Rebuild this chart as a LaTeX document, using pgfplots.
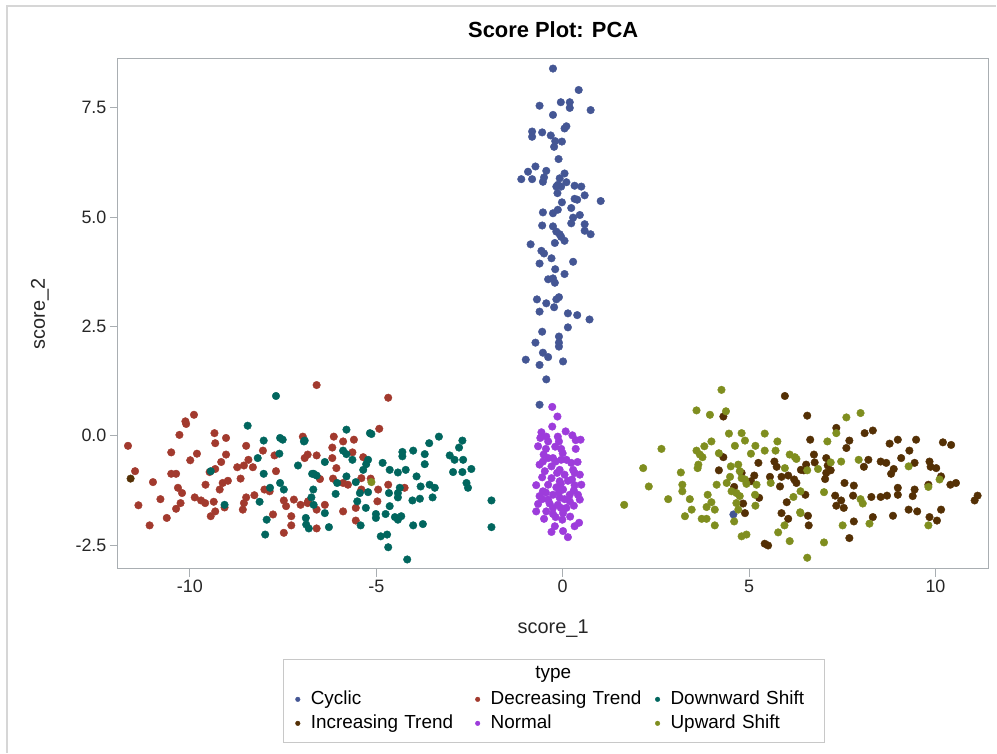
\documentclass[border=0pt]{standalone}
\usepackage{fontspec}
\setmainfont{Liberation Sans}
\usepackage{pgfplots}
\pgfplotsset{compat=1.18}
\definecolor{cyc}{HTML}{445694}
\definecolor{dec}{HTML}{A23A2E}
\definecolor{dow}{HTML}{01665E}
\definecolor{inc}{HTML}{543005}
\definecolor{nor}{HTML}{9D3CDB}
\definecolor{upw}{HTML}{7F8E1F}
\definecolor{axgray}{HTML}{A9AEB2}
\definecolor{framegray}{HTML}{D6D6D6}
\definecolor{legbox}{HTML}{C8C8C8}
\begin{document}
\begin{tikzpicture}
\path (0,0) rectangle (997bp,753bp);
\draw[framegray, line width=1.2bp] (7bp,0) -- (7bp,747bp) -- (997bp,747bp);
\draw[legbox, line width=1bp] (284bp,10bp) rectangle (825bp,93bp);
\node[anchor=base, font=\fontsize{19}{22}\selectfont] at (553.5bp,74bp) {type};
\begin{axis}[
  at={(118bp,184bp)}, anchor=south west, scale only axis,
  width=871bp, height=510bp,
  xmin=-11.93, xmax=11.42, ymin=-3.04, ymax=8.62,
  axis line style={draw=axgray, line width=1bp},
  tick align=outside, tick pos=left, major tick length=8bp,
  tick style={draw=axgray, line width=1bp},
  xtick={-10,-5,0,5,10}, xticklabels={-10,-5,0,5,10},
  ytick={-2.5,0,2.5,5,7.5}, yticklabels={-2.5,0.0,2.5,5.0,7.5},
  ticklabel style={font=\fontsize{18}{20}\selectfont, text=black!85},
  xlabel={score\_1}, ylabel={score\_2},
  label style={font=\fontsize{20}{24}\selectfont, text=black!85},
  xlabel style={at={(axis description cs:0.5,0)}, anchor=base, yshift=-65bp},
  ylabel style={at={(axis description cs:-0.0838,0.5)}, anchor=base},
  title={Score Plot: PCA},
  title style={font=\bfseries\fontsize{22}{26}\selectfont, at={(axis description cs:0.5,1)}, anchor=base, yshift=15bp},
  legend columns=3,
  legend style={at={(axis description cs:0.2040,-0.2329)}, anchor=north west, draw=none, fill=none,
    inner sep=0pt, outer sep=0pt, column sep=0pt, row sep=0pt,
    font=\fontsize{19}{22}\selectfont, cells={anchor=west},
    nodes={text width=154bp, inner xsep=10.7bp, inner ysep=3bp, text height=14bp, text depth=4bp}},
  legend image code/.code={\draw[#1, mark size=2.3bp] plot coordinates {(0bp,0bp)};},
  every axis plot/.append style={only marks, mark=*, mark size=3.8bp},
]
\addplot[color=cyc, mark options={draw=cyc, fill=cyc}] table {
x y
-0.26 8.40
0.43 7.91
-0.62 7.55
-0.05 7.63
0.19 7.63
0.19 7.50
0.75 7.45
-0.26 7.34
0.10 7.08
0.05 7.03
-0.82 6.96
-0.82 6.84
-0.55 6.94
-0.32 6.87
-0.20 6.74
-0.02 6.73
-0.23 6.61
-0.11 6.33
-0.73 6.16
-0.93 6.04
-1.11 5.87
-0.82 5.87
-0.44 6.06
-0.50 5.91
-0.53 5.81
0.05 6.00
-0.08 5.89
0.10 5.80
-0.13 5.74
-0.04 5.70
-0.17 5.70
0.32 5.72
0.50 5.70
-0.14 5.55
0.59 5.50
1.02 5.37
0.32 5.42
0.39 5.40
-0.02 5.34
0.23 5.21
-0.13 5.17
-0.26 5.09
-0.53 5.11
0.46 5.05
0.28 4.99
0.23 4.86
0.59 4.84
-0.55 4.81
-0.26 4.79
-0.17 4.67
-0.08 4.61
0.59 4.69
0.75 4.61
-0.04 4.55
0.05 4.46
-0.21 4.41
-0.86 4.38
-0.57 4.23
-0.50 4.17
-0.30 4.06
-0.62 3.94
0.28 3.98
-0.20 3.81
0.05 3.70
-0.39 3.58
-0.26 3.60
-0.21 3.50
-0.69 3.12
-0.44 3.03
-0.17 3.12
-0.10 3.17
-0.23 2.94
-0.62 2.84
0.14 2.80
0.39 2.76
0.72 2.66
0.14 2.48
-0.55 2.38
-0.10 2.27
-0.10 2.13
-0.10 2.04
-0.73 2.13
-0.53 1.90
-0.39 1.80
-0.99 1.74
-0.62 1.62
0.01 1.70
-0.44 1.29
-0.62 0.71
4.58 -1.80
};
\addlegendentry{Cyclic}
\addplot[color=dec, mark options={draw=dec, fill=dec}] table {
x y
-11.66 -0.23
-11.47 -0.81
-11.38 -1.59
-11.08 -2.05
-10.99 -1.06
-10.79 -1.45
-10.62 -1.88
-10.50 -0.38
-10.28 0.02
-10.12 0.33
-10.10 0.27
-9.89 0.48
-9.99 -0.56
-9.81 -0.41
-10.50 -0.87
-10.37 -0.87
-10.32 -1.19
-10.21 -1.31
-10.25 -1.54
-10.37 -1.67
-9.87 -1.41
-9.70 -1.48
-9.59 -1.54
-9.36 -1.51
-9.32 -1.73
-9.44 -1.84
-9.58 -1.12
-9.34 0.06
-9.32 -0.17
-9.03 -0.05
-9.03 -0.43
-9.16 -0.60
-9.32 -0.76
-9.47 -0.83
-8.98 -1.03
-9.12 -1.08
-9.20 -1.23
-9.07 -1.64
-8.73 -0.72
-8.55 -0.68
-8.43 -0.55
-8.31 -0.72
-8.49 -0.23
-8.64 -0.98
-8.49 -1.41
-8.55 -1.54
-8.58 -1.69
-8.27 -1.36
-8.04 -0.34
-7.73 -0.45
-7.69 -0.81
-8.00 -1.23
-7.86 -1.27
-7.77 -1.80
-7.48 -1.48
-7.42 -1.61
-7.28 -1.84
-7.28 -2.05
-7.48 -2.22
-7.21 -1.46
-7.03 -1.58
-6.97 -0.02
-6.92 -0.51
-6.84 -0.43
-6.84 -1.54
-6.60 1.16
-4.68 0.87
-4.92 0.16
-6.14 -0.02
-5.89 -0.13
-5.60 -0.09
-6.18 -0.27
-5.64 -0.38
-5.35 -0.49
-6.60 -0.45
-6.18 -0.51
-6.07 -0.74
-6.51 -0.99
-6.16 -0.98
-5.89 -1.08
-5.76 -1.12
-5.40 -0.97
-5.15 -0.98
-4.95 -1.23
-4.68 -1.12
-4.24 -1.19
-5.40 -1.23
-4.97 -1.50
-6.38 -1.58
-6.83 -1.50
-6.60 -1.69
-5.89 -1.73
-5.55 -1.65
-5.55 -1.94
-6.60 -2.12
};
\addlegendentry{Decreasing Trend}
\addplot[color=dow, mark options={draw=dow, fill=dow}] table {
x y
-7.69 0.91
-8.45 0.23
-8.02 -0.11
-7.58 -0.05
-7.51 -0.09
-6.92 -0.11
-7.60 -0.41
-8.18 -0.51
-7.10 -0.68
-8.02 -0.87
-9.44 -0.81
-7.58 -1.08
-7.48 -1.23
-7.85 -1.19
-8.13 -1.51
-9.07 -1.58
-7.94 -1.92
-7.98 -2.26
-6.88 -2.03
-6.81 -2.12
-6.72 -0.87
-5.80 0.14
-5.17 0.06
-5.13 0.04
-6.94 -0.13
-5.89 -0.34
-5.80 -0.42
-5.64 -0.55
-6.38 -0.60
-5.22 -0.55
-5.27 -0.65
-5.35 -0.78
-4.83 -0.62
-4.64 -0.78
-4.42 -0.84
-4.21 -0.78
-4.30 -0.37
-4.30 -0.47
-4.01 -0.34
-3.70 -0.42
-3.70 -0.65
-3.58 -0.17
-3.32 -0.02
-3.03 -0.45
-2.90 -0.55
-2.67 -0.55
-2.78 -0.27
-2.69 -0.11
-2.94 -0.83
-2.69 -0.83
-2.45 -0.76
-2.58 -1.08
-2.54 -1.19
-1.91 -1.48
-1.91 -2.09
-3.92 -0.93
-3.81 -1.16
-3.57 -1.12
-3.43 -1.19
-3.49 -1.41
-3.83 -1.44
-4.03 -1.48
-4.37 -1.19
-4.42 -1.31
-4.42 -1.41
-4.66 -1.31
-4.64 -1.61
-4.75 -1.79
-5.01 -1.79
-5.01 -1.88
-4.50 -1.86
-4.42 -1.92
-4.33 -1.84
-5.28 -1.65
-5.51 -1.50
-5.44 -1.31
-5.22 -1.29
-5.55 -1.06
-5.80 -0.93
-6.05 -1.08
-6.09 -1.33
-6.68 -0.87
-6.60 -0.91
-6.69 -1.23
-6.74 -1.41
-6.68 -1.58
-6.38 -1.77
-6.89 -1.88
-6.27 -2.09
-5.42 -2.05
-4.01 -2.05
-3.75 -2.02
-4.88 -2.30
-4.71 -2.26
-4.68 -2.55
-4.17 -2.83
};
\addlegendentry{Downward Shift}
\addplot[color=inc, mark options={draw=inc, fill=inc}] table {
x y
-11.59 -0.98
5.96 0.91
4.31 0.44
4.31 -0.49
4.19 -0.79
4.80 -0.85
5.25 -0.62
5.14 -0.91
5.05 -1.04
4.60 -1.17
5.27 -1.42
5.68 -0.59
5.74 -0.71
5.56 -0.94
5.87 -0.94
6.05 -0.91
6.21 -1.00
6.27 -1.08
5.83 -1.16
6.01 -1.52
4.84 -1.55
4.89 -1.77
5.87 -1.77
6.05 -1.90
5.42 -2.47
5.51 -2.51
6.39 -0.78
6.56 0.46
7.34 0.18
8.10 0.06
8.32 0.12
6.64 -0.09
7.69 -0.11
7.61 -0.28
8.77 -0.18
8.99 -0.09
9.48 -0.09
10.20 -0.15
10.42 -0.21
9.30 -0.34
6.74 -0.43
7.07 -0.51
6.76 -0.61
6.53 -0.66
6.47 -0.79
7.11 -0.68
7.19 -0.79
7.07 -0.85
7.04 -0.99
8.20 -0.55
8.08 -0.71
8.53 -0.59
8.68 -0.62
9.08 -0.51
8.88 -0.76
8.81 -0.87
9.44 -0.62
9.84 -0.59
9.87 -0.71
10.02 -0.74
10.15 -0.93
10.40 -1.12
10.55 -1.08
11.13 -1.37
11.05 -1.48
7.56 -1.08
7.81 -1.14
8.99 -1.19
8.99 -1.35
9.44 -1.23
9.39 -1.38
9.81 -1.12
6.51 -1.35
7.31 -1.37
7.47 -1.48
7.34 -1.60
7.54 -1.65
7.79 -1.37
8.28 -1.40
8.53 -1.40
8.70 -1.37
6.58 -1.83
6.60 -2.05
7.81 -1.96
8.32 -1.86
8.86 -1.83
9.28 -1.69
9.51 -1.73
9.84 -1.86
10.04 -1.94
10.15 -1.69
7.69 -2.34
};
\addlegendentry{Increasing Trend}
\addplot[color=nor, mark options={draw=nor, fill=nor}] table {
x y
-0.28 0.66
-0.14 0.44
-0.28 0.21
-0.57 0.08
-0.44 -0.02
-0.39 -0.13
-0.13 -0.02
-0.10 -0.13
0.08 0.10
0.26 0.01
0.48 -0.09
-0.66 -0.24
-0.04 -0.30
-0.51 -0.43
-0.26 -0.51
-0.19 -0.59
-0.62 -0.66
0.23 -0.62
-0.48 -0.81
-0.08 -0.78
0.05 -0.89
0.32 -0.85
0.46 -0.89
-0.30 -0.97
0.14 -1.03
-0.71 -1.13
-0.39 -1.12
-0.17 -1.18
0.32 -1.13
0.50 -1.12
0.01 -1.23
0.19 -1.35
0.41 -1.35
-0.26 -1.35
-0.62 -1.38
-0.39 -1.46
0.46 -1.46
-0.66 -1.56
-0.13 -1.58
0.10 -1.65
-0.71 -1.73
-0.44 -1.73
-0.26 -1.79
-0.19 -1.86
-0.01 -1.92
0.44 -1.99
0.32 -2.07
-0.21 -2.07
0.01 -2.18
0.14 -2.32
-0.53 -0.59
-0.30 -0.70
0.10 -0.55
0.28 -0.78
-0.08 -1.04
-0.53 -1.27
0.19 -1.50
-0.08 -1.42
-0.26 -1.65
0.01 -1.77
-0.39 -0.51
-0.04 -0.55
-0.60 -0.05
0.00 -0.40
0.35 -0.30
-0.45 -0.30
0.40 -0.60
-0.15 -0.85
-0.55 -0.95
0.25 -1.00
-0.05 -1.10
-0.45 -1.30
0.30 -1.25
-0.10 -1.30
0.05 -1.45
-0.55 -1.45
0.30 -1.60
-0.35 -1.55
-0.05 -1.65
0.20 -1.85
-0.50 -1.90
-0.30 -2.20
0.35 -0.10
-0.20 -0.25
};
\addlegendentry{Normal}
\addplot[color=upw, mark options={draw=upw, fill=upw}] table {
x y
-5.13 -1.06
4.26 1.05
3.59 0.58
3.95 0.48
4.38 0.56
4.46 0.05
4.80 0.06
4.89 -0.11
5.42 0.05
5.76 -0.13
3.99 -0.13
3.80 -0.24
3.59 -0.34
3.68 -0.43
3.75 -0.49
2.65 -0.30
4.19 -0.40
4.62 -0.23
5.05 -0.41
5.17 -0.23
5.42 -0.34
5.71 -0.34
6.09 -0.43
6.23 -0.49
5.96 -0.74
2.16 -0.74
3.17 -0.84
3.64 -0.66
3.62 -0.74
4.51 -0.70
4.71 -0.66
4.75 -0.81
4.80 -0.97
4.89 -1.00
4.93 -1.10
2.31 -1.16
3.21 -1.12
3.21 -1.27
4.13 -1.12
4.49 -0.94
4.40 -1.08
5.20 -1.12
5.58 -1.08
4.53 -1.27
4.66 -1.31
4.75 -1.38
3.89 -1.35
3.41 -1.45
2.83 -1.45
1.65 -1.58
3.99 -1.52
3.86 -1.63
4.08 -1.69
3.46 -1.69
3.28 -1.84
3.73 -1.90
3.86 -1.90
4.08 -2.05
4.66 -1.54
4.71 -1.69
4.60 -1.96
5.16 -1.35
5.17 -1.60
4.80 -2.30
4.93 -2.26
6.19 -1.40
6.37 -1.75
5.95 -2.05
5.78 -2.21
6.09 -2.41
7.61 0.42
7.99 0.52
7.34 0.06
7.10 -0.13
6.27 -0.53
7.19 -0.61
7.47 -0.59
7.94 -0.55
6.56 -0.79
6.85 -0.76
9.28 -0.70
10.11 -1.00
9.81 -1.17
6.38 -1.27
7.01 -1.29
7.99 -1.45
8.05 -1.55
6.38 -1.77
7.51 -2.05
8.23 -2.01
9.81 -2.05
7.01 -2.44
6.56 -2.79
};
\addlegendentry{Upward Shift}
\end{axis}
\end{tikzpicture}
\end{document}
